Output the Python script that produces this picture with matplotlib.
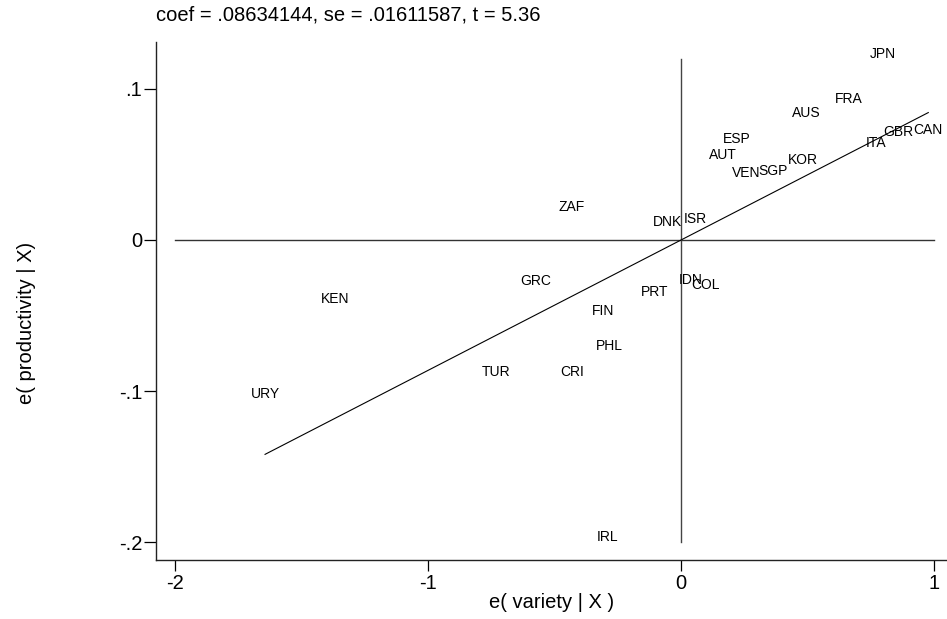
"""
Added-variable plot: productivity vs variety residuals, country labels
at each point, with the fitted slope from the regression.
"""
import numpy as np
import matplotlib
matplotlib.use("Agg")
import matplotlib.pyplot as plt

# ---- data ----
countries = ["JPN", "FRA", "AUS", "ESP", "AUT", "VEN", "SGP", "KOR", "ITA",
             "GBR", "CAN", "DNK", "ISR", "ZAF", "GRC", "KEN", "PRT", "FIN",
             "PHL", "TUR", "CRI", "URY", "IRL", "IDN", "COL"]
e_variety = [0.797, 0.662, 0.493, 0.221, 0.165, 0.259, 0.365, 0.480, 0.770,
             0.860, 0.977, -0.054, 0.055, -0.432, -0.574, -1.367, -0.103, -0.309,
             -0.283, -0.732, -0.432, -1.644, -0.291, 0.038, 0.095]
e_product = [0.1232, 0.0932, 0.0839, 0.0667, 0.0563, 0.0442, 0.0459, 0.0530, 0.0640,
             0.0717, 0.0728, 0.0121, 0.0137, 0.0221, -0.0270, -0.0391, -0.0342, -0.0470,
             -0.0700, -0.0874, -0.0874, -0.1020, -0.1965, -0.0265, -0.0298]

coef = 0.08634144
se = 0.01611587
tstat = 5.36

# reference lines (x=0 and y=0)
hline_x = [-2, 1]
vline_y = [-0.2, 0.12]

xticks = [-2, -1, 0, 1]
xticklabels = ["-2", "-1", "0", "1"]
yticks = [-0.2, -0.1, 0, 0.1]
yticklabels = ["-.2", "-.1", "0", ".1"]

plt.rcParams["font.family"] = ["Liberation Sans", "DejaVu Sans"]

W, H = 947, 619
fig = plt.figure(figsize=(W / 100, H / 100), dpi=100)
# axes box in pixels: left 156, right 947, top 42, bottom 560
ax = fig.add_axes([156 / W, (H - 560) / H, (947 - 156) / W, (560 - 42) / H])

ax.plot(hline_x, [0, 0], color="#333333", lw=1.0)
ax.plot([0, 0], vline_y, color="#444444", lw=1.0)

xs = np.array([min(e_variety), max(e_variety)])
ax.plot(xs, coef * xs, color="black", lw=0.8)

for name, x, y in zip(countries, e_variety, e_product):
    ax.text(x, y, name, ha="center", va="center", fontsize=10)

ax.set_xlim(-2.075, 1.051)
ax.set_ylim(-0.2119, 0.1311)

for s in ["top", "right"]:
    ax.spines[s].set_visible(False)
for s in ["left", "bottom"]:
    ax.spines[s].set_linewidth(1.0)
    ax.spines[s].set_color("#222222")

ax.set_xticks(xticks)
ax.set_xticklabels(xticklabels)
ax.set_yticks(yticks)
ax.set_yticklabels(yticklabels)
ax.tick_params(axis="both", direction="out", labelsize=14.5, width=0.9)
ax.tick_params(axis="x", length=8, pad=2)
ax.tick_params(axis="y", length=9, pad=1)

ax.set_xlabel("e( variety | X )", fontsize=14.5, va="center")
ax.xaxis.set_label_coords(0.5, (560 - 603) / 518)
ax.set_ylabel("e( productivity | X)", fontsize=14.5, va="center")
ax.yaxis.set_label_coords((27 - 156) / 791, (560 - 323) / 518)

fig.text(156 / W, 1 - 15 / H,
         f"coef = .{int(round(coef * 1e8)):08d}, se = .{int(round(se * 1e8)):08d}, t = {tstat:.2f}",
         ha="left", va="center", fontsize=14.5)

fig.savefig("out.png", dpi=100)
